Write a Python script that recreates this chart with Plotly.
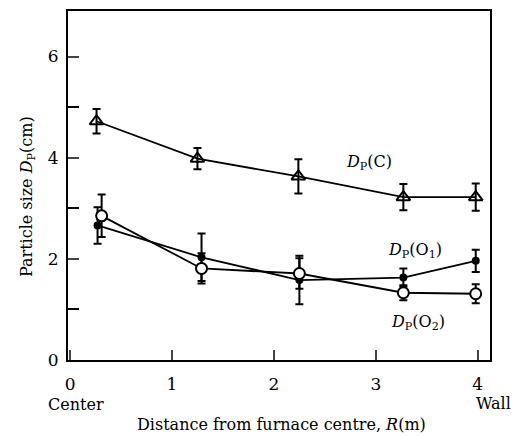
import plotly.graph_objects as go

# data
r_c = [0.26, 1.25, 2.24, 3.27, 3.98]
dp_c = [4.72, 3.98, 3.63, 3.22, 3.22]
err_c = [0.24, 0.21, 0.34, 0.26, 0.27]

r_o1 = [0.27, 1.29, 2.25, 3.27, 3.98]
dp_o1 = [2.66, 2.03, 1.58, 1.63, 1.96]
err_o1 = [0.36, 0.47, 0.48, 0.18, 0.22]

r_o2 = [0.31, 1.29, 2.25, 3.27, 3.98]
dp_o2 = [2.85, 1.81, 1.71, 1.33, 1.31]
err_o2 = [0.42, 0.30, 0.30, 0.15, 0.19]

x_ticks = [0, 1, 2, 3, 4]
y_ticks = [0, 2, 4, 6]
y_minor = [1, 3, 5]

FONT = "DejaVu Serif"
fig = go.Figure()

def err(a):
    return dict(type="data", array=a, visible=True, color="black", thickness=2, width=4)

fig.add_trace(go.Scatter(x=r_c, y=dp_c, mode="lines+markers", error_y=err(err_c),
                         line=dict(color="black", width=1.8),
                         marker=dict(symbol="triangle-up-open", size=12, color="black", line=dict(width=2))))
fig.add_trace(go.Scatter(x=r_o1, y=dp_o1, mode="lines+markers", error_y=err(err_o1),
                         line=dict(color="black", width=1.8),
                         marker=dict(symbol="circle", size=8, color="black")))
fig.add_trace(go.Scatter(x=r_o2, y=dp_o2, mode="lines+markers", error_y=err(err_o2),
                         line=dict(color="black", width=1.8),
                         marker=dict(symbol="circle", size=11, color="white", line=dict(color="black", width=2))))

ann_font = dict(family=FONT, size=16, color="black")
fig.add_annotation(x=2.93, y=3.90, text="<i>D</i><sub>P</sub>(C)", showarrow=False, font=ann_font)
fig.add_annotation(x=3.38, y=2.16, text="<i>D</i><sub>P</sub>(O<sub>1</sub>)", showarrow=False, font=ann_font)
fig.add_annotation(x=3.41, y=0.75, text="<i>D</i><sub>P</sub>(O<sub>2</sub>)", showarrow=False, font=ann_font)
fig.add_annotation(x=0.019, y=-0.128, xref="paper", yref="paper", text="Center", showarrow=False,
                   font=ann_font, xanchor="center", yanchor="middle")
fig.add_annotation(x=1.054, y=-0.124, xref="paper", yref="paper", text="Wall", showarrow=False,
                   font=ann_font, xanchor="right", yanchor="middle")
fig.add_annotation(x=0.505, y=-0.185, xref="paper", yref="paper",
                   text="Distance from furnace centre, <i>R</i>(m)", showarrow=False,
                   font=ann_font, xanchor="center", yanchor="middle")
fig.add_annotation(x=-0.097, y=0.467, xref="paper", yref="paper", textangle=-90,
                   text="Particle size <i>D</i><sub>P</sub>(cm)", showarrow=False,
                   font=ann_font, xanchor="center", yanchor="middle")

fig.update_layout(
    width=513, height=429,
    margin=dict(l=60, r=31, t=1, b=77),
    plot_bgcolor="white", paper_bgcolor="white",
    showlegend=False,
    font=dict(family=FONT, size=17, color="black"),
    xaxis=dict(range=[-0.02, 4.12], tickvals=x_ticks, ticks="inside", ticklen=10, tickwidth=1.5,
               ticklabelstandoff=8,
               showline=True, linecolor="black", linewidth=2, mirror=True, showgrid=False, zeroline=False),
    yaxis=dict(range=[0, 6.9], tickvals=y_ticks, ticks="inside", ticklen=11, tickwidth=1.5,
               ticklabelstandoff=4,
               minor=dict(tickvals=y_minor, ticks="inside", ticklen=11, tickwidth=1.5, tickcolor="black"),
               showline=True, linecolor="black", linewidth=2, mirror=True, showgrid=False, zeroline=False),
)

fig.write_html("out.html")
